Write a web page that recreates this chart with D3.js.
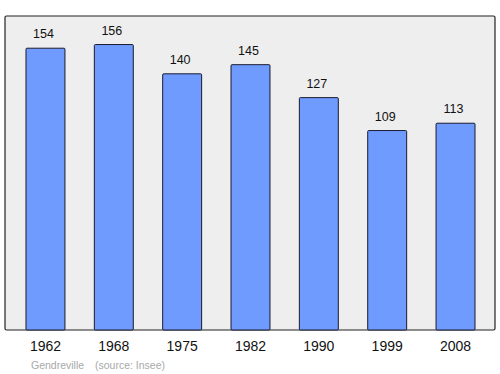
<!DOCTYPE html>
<html>
<head>
<meta charset="utf-8">
<script src="https://cdn.jsdelivr.net/npm/d3@7"></script>
<style>
  body { margin: 0; background: #fff; }
  text { font-family: "Liberation Sans", Arial, sans-serif; }
</style>
</head>
<body>
<script>
var width = 500,
    height = 374

// population per census year
var years = ["1962", "1968", "1975", "1982", "1990", "1999", "2008"];
var population = [154, 156, 140, 145, 127, 109, 113];

var data = years.map(function(y, i) { return {year: y, value: population[i]}; });

var frame = {left: 5, top: 16, right: 495, bottom: 330};

var svg = d3.select("body").append("svg")
    .attr("width", width)
    .attr("height", height);

var x = d3.scaleBand()
    .domain(years)
    .range([11.3, 489.7])
    .paddingInner(0.43)
    .paddingOuter(0.215);

var y = d3.scaleLinear()
    .domain([0, d3.max(population) * 1.1])
    .range([frame.bottom, frame.top]);

// plot background
svg.append("rect")
    .attr("x", frame.left)
    .attr("y", frame.top)
    .attr("width", frame.right - frame.left)
    .attr("height", frame.bottom - frame.top)
    .attr("rx", 1.5)
    .attr("fill", "#eeeeee")
    .attr("stroke", "#222")
    .attr("stroke-width", 1.2);

svg.selectAll(".bar").data(data)
  .enter().append("rect")
    .attr("class", "bar")
    .attr("x", function(d) { return x(d.year); })
    .attr("y", function(d) { return y(d.value); })
    .attr("width", x.bandwidth())
    .attr("height", function(d) { return y(0) - y(d.value); })
    .attr("rx", 1)
    .attr("fill", "#6f9bff")
    .attr("stroke", "#1a1a2e")
    .attr("stroke-width", 1);

svg.selectAll(".val").data(data)
  .enter().append("text")
    .attr("class", "val")
    .attr("x", function(d) { return x(d.year) + x.bandwidth() / 2 - 2; })
    .attr("y", function(d) { return y(d.value) - 10; })
    .attr("text-anchor", "middle")
    .attr("font-size", "12.5px")
    .attr("fill", "#111")
    .text(function(d) { return d.value; });

// year axis, no line or ticks
var xAxis = svg.append("g")
    .attr("transform", "translate(0," + frame.bottom + ")")
    .call(d3.axisBottom(x).tickSize(0).tickPadding(11.5));
xAxis.select(".domain").remove();
xAxis.selectAll("text")
    .attr("font-size", "14px")
    .attr("font-family", "Liberation Sans, Arial, sans-serif")
    .attr("fill", "#111");

svg.append("text")
    .attr("x", 31)
    .attr("y", 368.5)
    .attr("font-size", "10.5px")
    .attr("fill", "#a8a8a8")
    .text("Gendreville");

svg.append("text")
    .attr("x", 95)
    .attr("y", 368.5)
    .attr("font-size", "10.5px")
    .attr("fill", "#a8a8a8")
    .text("(source: Insee)");
</script>
</body>
</html>
